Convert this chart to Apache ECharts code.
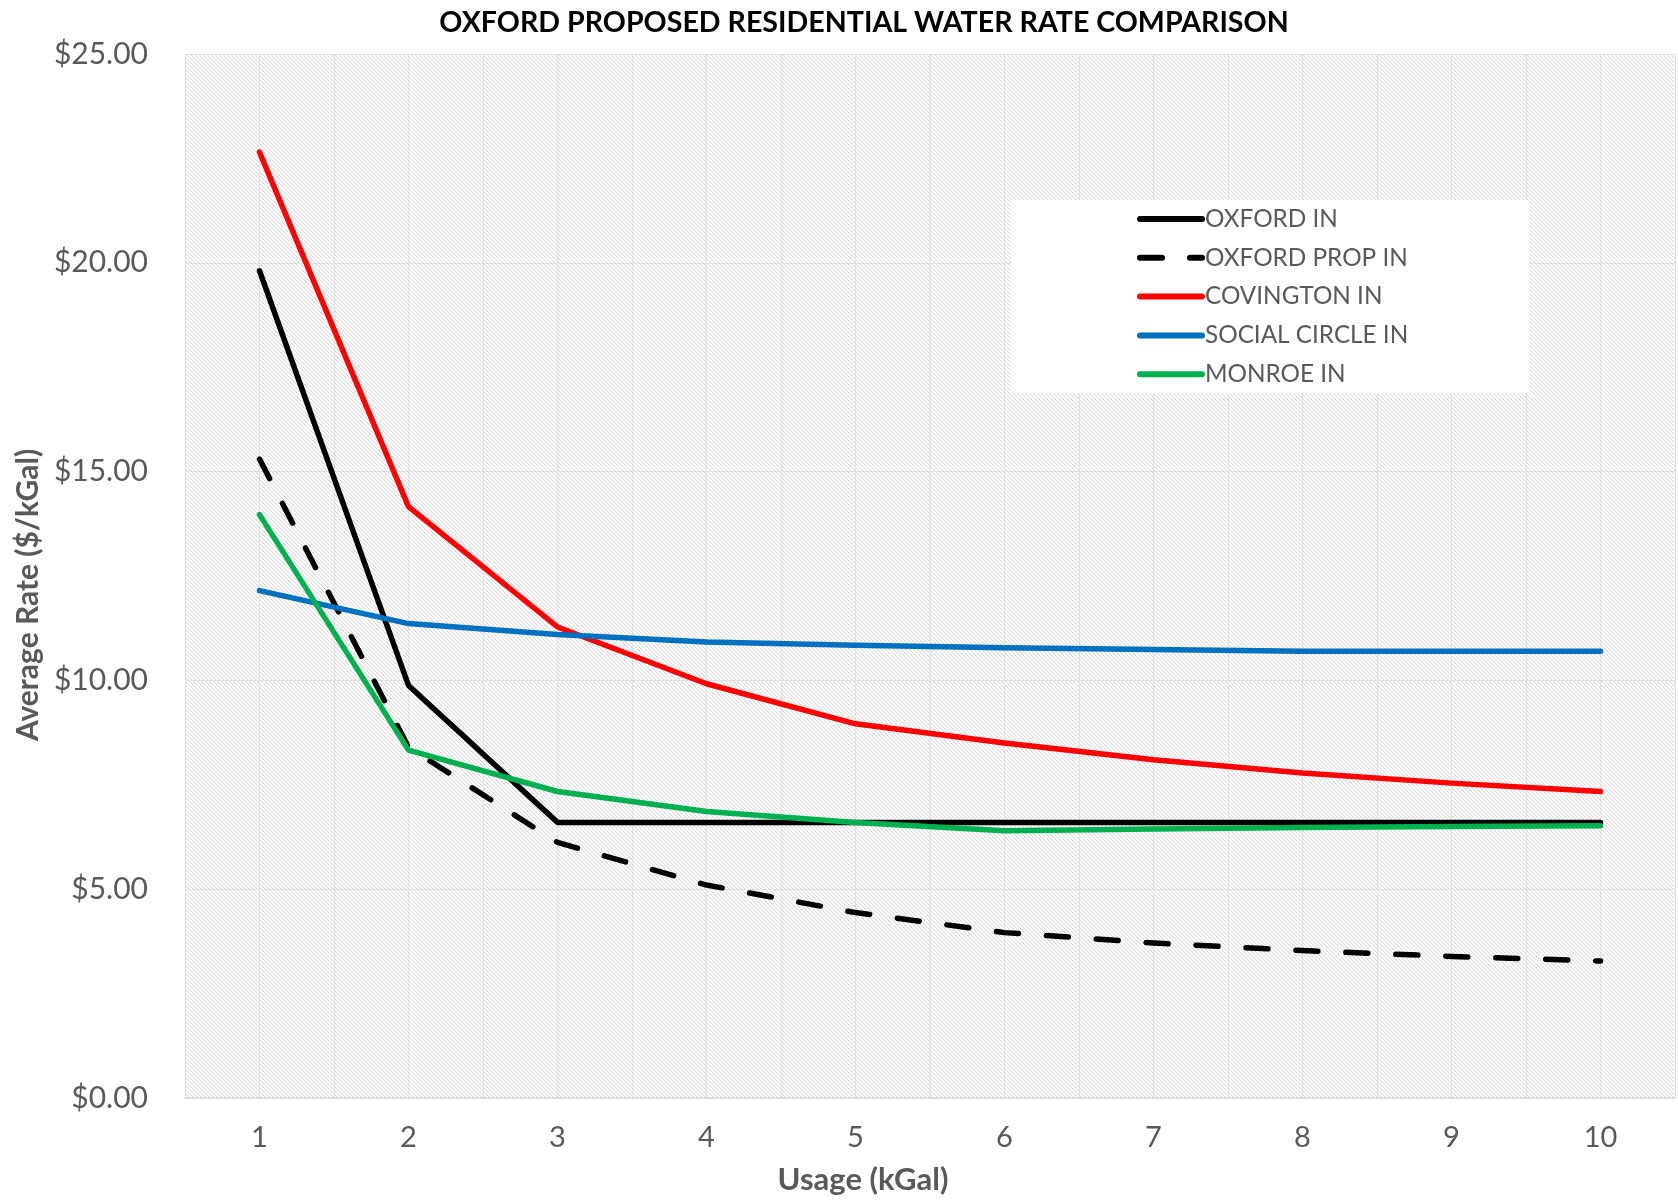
<!DOCTYPE html>
<html>
<head>
<meta charset="utf-8">
<script src="https://cdn.jsdelivr.net/npm/echarts@6/dist/echarts.min.js"></script>
<style>
html,body{margin:0;padding:0;background:#fff;}
#chart{width:1678px;height:1200px;}
</style>
</head>
<body>
<div id="chart"></div>
<script>
const usage = [1, 2, 3, 4, 5, 6, 7, 8, 9, 10];
const oxfordIn     = [19.81, 9.88, 6.60, 6.60, 6.60, 6.60, 6.60, 6.60, 6.60, 6.60];
const oxfordPropIn = [15.30, 8.40, 6.12, 5.10, 4.44, 3.96, 3.71, 3.53, 3.39, 3.28];
const covingtonIn  = [22.65, 14.16, 11.28, 9.92, 8.96, 8.50, 8.10, 7.78, 7.54, 7.34];
const socialCircleIn = [12.15, 11.36, 11.10, 10.92, 10.84, 10.78, 10.74, 10.70, 10.70, 10.70];
const monroeIn     = [13.97, 8.33, 7.34, 6.86, 6.60, 6.40, 6.44, 6.48, 6.50, 6.52];
const seriesNames = ['OXFORD IN', 'OXFORD PROP IN', 'COVINGTON IN', 'SOCIAL CIRCLE IN', 'MONROE IN'];
const yTicks = [0, 5, 10, 15, 20, 25];

function pairs(vals) { return usage.map((u, i) => [u, vals[i]]); }

// diagonal hatch tile for the plot background
const tile = document.createElement('canvas');
tile.width = 4; tile.height = 4;
const tc = tile.getContext('2d');
tc.fillStyle = '#ffffff'; tc.fillRect(0, 0, 4, 4);
for (let i = 0; i < 4; i++) {
  tc.fillStyle = '#d8d8d8'; tc.fillRect(i, i, 1, 1);
  tc.fillStyle = '#f4f4f4'; tc.fillRect((i + 1) % 4, i, 1, 1);
}

const FONT = 'Lato';
const GRAY = '#595959';

function lineSeries(name, data, color, dashed) {
  return {
    name: name,
    type: 'line',
    data: pairs(data),
    symbol: 'none',
    showSymbol: false,
    lineStyle: {
      color: color,
      width: 5.5,
      type: dashed ? [22, 28] : 'solid',
      cap: 'round',
      join: 'round'
    },
    itemStyle: { color: color },
    emphasis: { disabled: true }
  };
}

const chart = echarts.init(document.getElementById('chart'), null, { renderer: 'canvas' });
chart.setOption({
  animation: false,
  backgroundColor: '#ffffff',
  title: {
    text: 'OXFORD PROPOSED RESIDENTIAL WATER RATE COMPARISON',
    left: 859,
    textAlign: 'center',
    top: 3,
    textStyle: { fontFamily: FONT, fontWeight: 'bold', fontSize: 28.6, color: '#000000' }
  },
  grid: {
    show: true,
    left: 185,
    top: 54,
    width: 1498,
    height: 1044,
    borderWidth: 0,
    backgroundColor: { image: tile, repeat: 'repeat' }
  },
  legend: {
    orient: 'vertical',
    left: 1011,
    top: 200,
    padding: [7, 121, 7, 126],
    backgroundColor: '#ffffff',
    itemWidth: 62,
    itemHeight: 14,
    itemGap: 14.8,
    data: seriesNames,
    lineStyle: { width: 6, cap: 'round' },
    itemStyle: { opacity: 0, color: 'rgba(0,0,0,0)', borderWidth: 0 },
    textStyle: { fontFamily: FONT, fontSize: 24.3, color: GRAY, padding: [0, 0, 0, -2] }
  },
  xAxis: {
    type: 'value',
    min: 0.5,
    max: 10.5,
    interval: 0.5,
    name: 'Usage (kGal)',
    nameLocation: 'middle',
    nameGap: 66,
    nameTextStyle: { fontFamily: FONT, fontWeight: 'bold', fontSize: 31, color: GRAY, padding: [0, 134, 0, 0] },
    axisLine: { show: true, lineStyle: { color: '#d9d9d9', width: 1.5 } },
    axisTick: { show: false },
    axisLabel: {
      fontFamily: FONT, fontSize: 29, color: GRAY, margin: 25,
      showMinLabel: true, showMaxLabel: true,
      formatter: function (v) { return usage.indexOf(v) >= 0 ? String(v) : ''; }
    },
    splitLine: { show: true, lineStyle: { color: '#e0e0e0', width: 1 } }
  },
  yAxis: {
    type: 'value',
    min: yTicks[0],
    max: yTicks[yTicks.length - 1],
    interval: 5,
    name: 'Average Rate ($/kGal)',
    nameLocation: 'middle',
    nameGap: 137,
    nameTextStyle: { fontFamily: FONT, fontWeight: 'bold', fontSize: 30, color: GRAY, padding: [0, 38, 0, 0] },
    axisLine: { show: false },
    axisTick: { show: false },
    axisLabel: {
      fontFamily: FONT, fontSize: 30, color: GRAY, margin: 37,
      formatter: function (v) { return '$' + v.toFixed(2); }
    },
    splitLine: { show: true, lineStyle: { color: '#e0e0e0', width: 1 } }
  },
  series: [
    lineSeries(seriesNames[0], oxfordIn, '#000000', false),
    lineSeries(seriesNames[1], oxfordPropIn, '#000000', true),
    lineSeries(seriesNames[2], covingtonIn, '#ff0000', false),
    lineSeries(seriesNames[3], socialCircleIn, '#0070c0', false),
    lineSeries(seriesNames[4], monroeIn, '#00b050', false)
  ]
});
</script>
</body>
</html>
